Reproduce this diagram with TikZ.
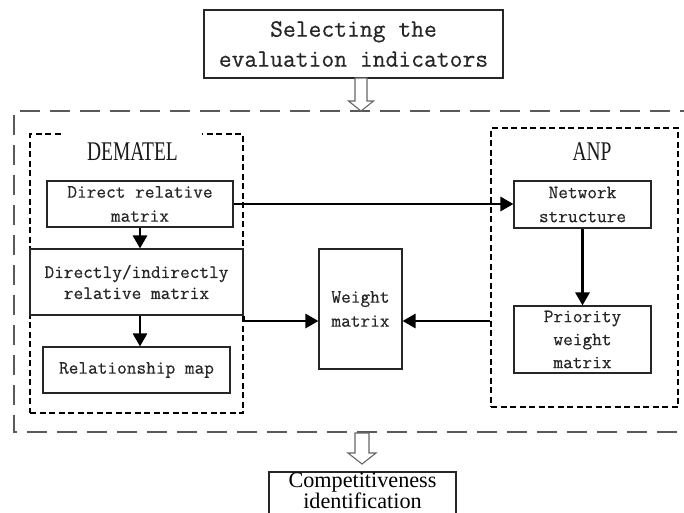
\documentclass[tikz,border=0pt]{standalone}
\usepackage{fontspec}
\newfontfamily\condserif[FakeStretch=0.72]{Liberation Serif}
\newfontfamily\tnr{Liberation Serif}
\newfontfamily\mymono[FakeBold=0.5]{Latin Modern Mono}
\usetikzlibrary{arrows.meta,calc}
\tikzset{
  x=1pt, y=-1pt,
  box/.style={draw=black!85, line width=1.1pt, align=center, inner sep=0pt,
    text=black!85, font=\mymono\fontsize{18.8}{24}\selectfont},
  dashbox/.style={draw=black, line width=1.4pt, dash pattern=on 6pt off 3.5pt, inner sep=0pt},
  outerdash/.style={draw=black!65, line width=1.5pt, dash pattern=on 20pt off 10pt},
  arr/.style={line width=2.8pt, -{Triangle[length=13pt,width=14pt]}},
  hollow/.style={draw=black!60, line width=1.1pt, fill=white},
}
\begin{document}
\begin{tikzpicture}
\useasboundingbox (0,0) rectangle (684,512);
% outer dashed frame
\draw[outerdash] (700,111) -- (14,111) -- (14,432) -- (700,432);
% top box
\node[box, minimum width=299pt, minimum height=68pt, font=\mymono\fontsize{24.9}{30}\selectfont] (top) at (353.5,44) {Selecting the\\evaluation indicators};
% dashed group boxes
\node[dashbox, minimum width=213pt, minimum height=279pt] (dem) at (136.5,273.5) {};
\node[dashbox, minimum width=187pt, minimum height=279pt] (anp) at (584.5,267.5) {};
\node[fill=white, minimum width=139pt, minimum height=40pt, inner sep=0pt, text=black!90, font=\condserif\fontsize{27}{27}\selectfont] (demlabel) at (132.5,152) {DEMATEL};
\node[inner sep=0pt, text=black!90, font=\condserif\fontsize{27}{27}\selectfont] (anplabel) at (592,152) {ANP};
% inner boxes
\node[box, minimum width=186pt, minimum height=46pt] (dir) at (140,204) {Direct relative\\matrix};
\node[box, minimum width=213pt, minimum height=66pt, font=\mymono\fontsize{18.8}{21}\selectfont] (dind) at (136.5,282) {Directly/indirectly\\relative matrix};
\node[box, minimum width=187pt, minimum height=46pt] (rel) at (136.5,370) {Relationship map};
\node[box, minimum width=83pt, minimum height=120pt] (weight) at (360.5,309) {Weight\\matrix};
\node[box, minimum width=137pt, minimum height=47pt] (net) at (582.5,204.5) {Network\\structure};
\node[box, minimum width=137pt, minimum height=67pt, font=\mymono\fontsize{18.8}{23}\selectfont] (prio) at (582.5,339.5) {Priority\\weight\\matrix};
\node[box, minimum width=187pt, minimum height=42pt, text=black, font=\tnr\fontsize{22.2}{21}\selectfont] (comp) at (362.5,493) {};
\node[align=center, inner sep=0pt, font=\tnr\fontsize{22.2}{21}\selectfont] (comptext) at (362.5,491) {Competitiveness\\identification};
% connectors
\coordinate (wy) at (0,321);
\coordinate (ax) at (140,0);
\draw[arr] (dir.south -| ax) -- (dind.north -| ax);
\draw[arr] (dind.south -| ax) -- (rel.north -| ax);
\draw[arr] (dir.east) -- (net.west |- dir.east);
\draw[arr] (dind.south east) -- (dind.south east |- wy) -- (weight.west |- wy);
\draw[arr] (anp.west |- wy) -- (weight.east |- wy);
\draw[arr] (net.south) -- (prio.north);
% hollow arrows
\coordinate (h1) at (361,78);
\draw[hollow] (h1) ++(-6,0) -- ++(0,23) -- ++(-6.5,0) -- ++(12.5,10) -- ++(12.5,-10) -- ++(-6.5,0) -- ++(0,-23) -- cycle;
\coordinate (h2) at (362,433);
\draw[hollow] (h2) ++(-7,0) -- ++(0,20) -- ++(-7,0) -- ++(14,11) -- ++(14,-11) -- ++(-7,0) -- ++(0,-20) -- cycle;
\end{tikzpicture}
\end{document}
